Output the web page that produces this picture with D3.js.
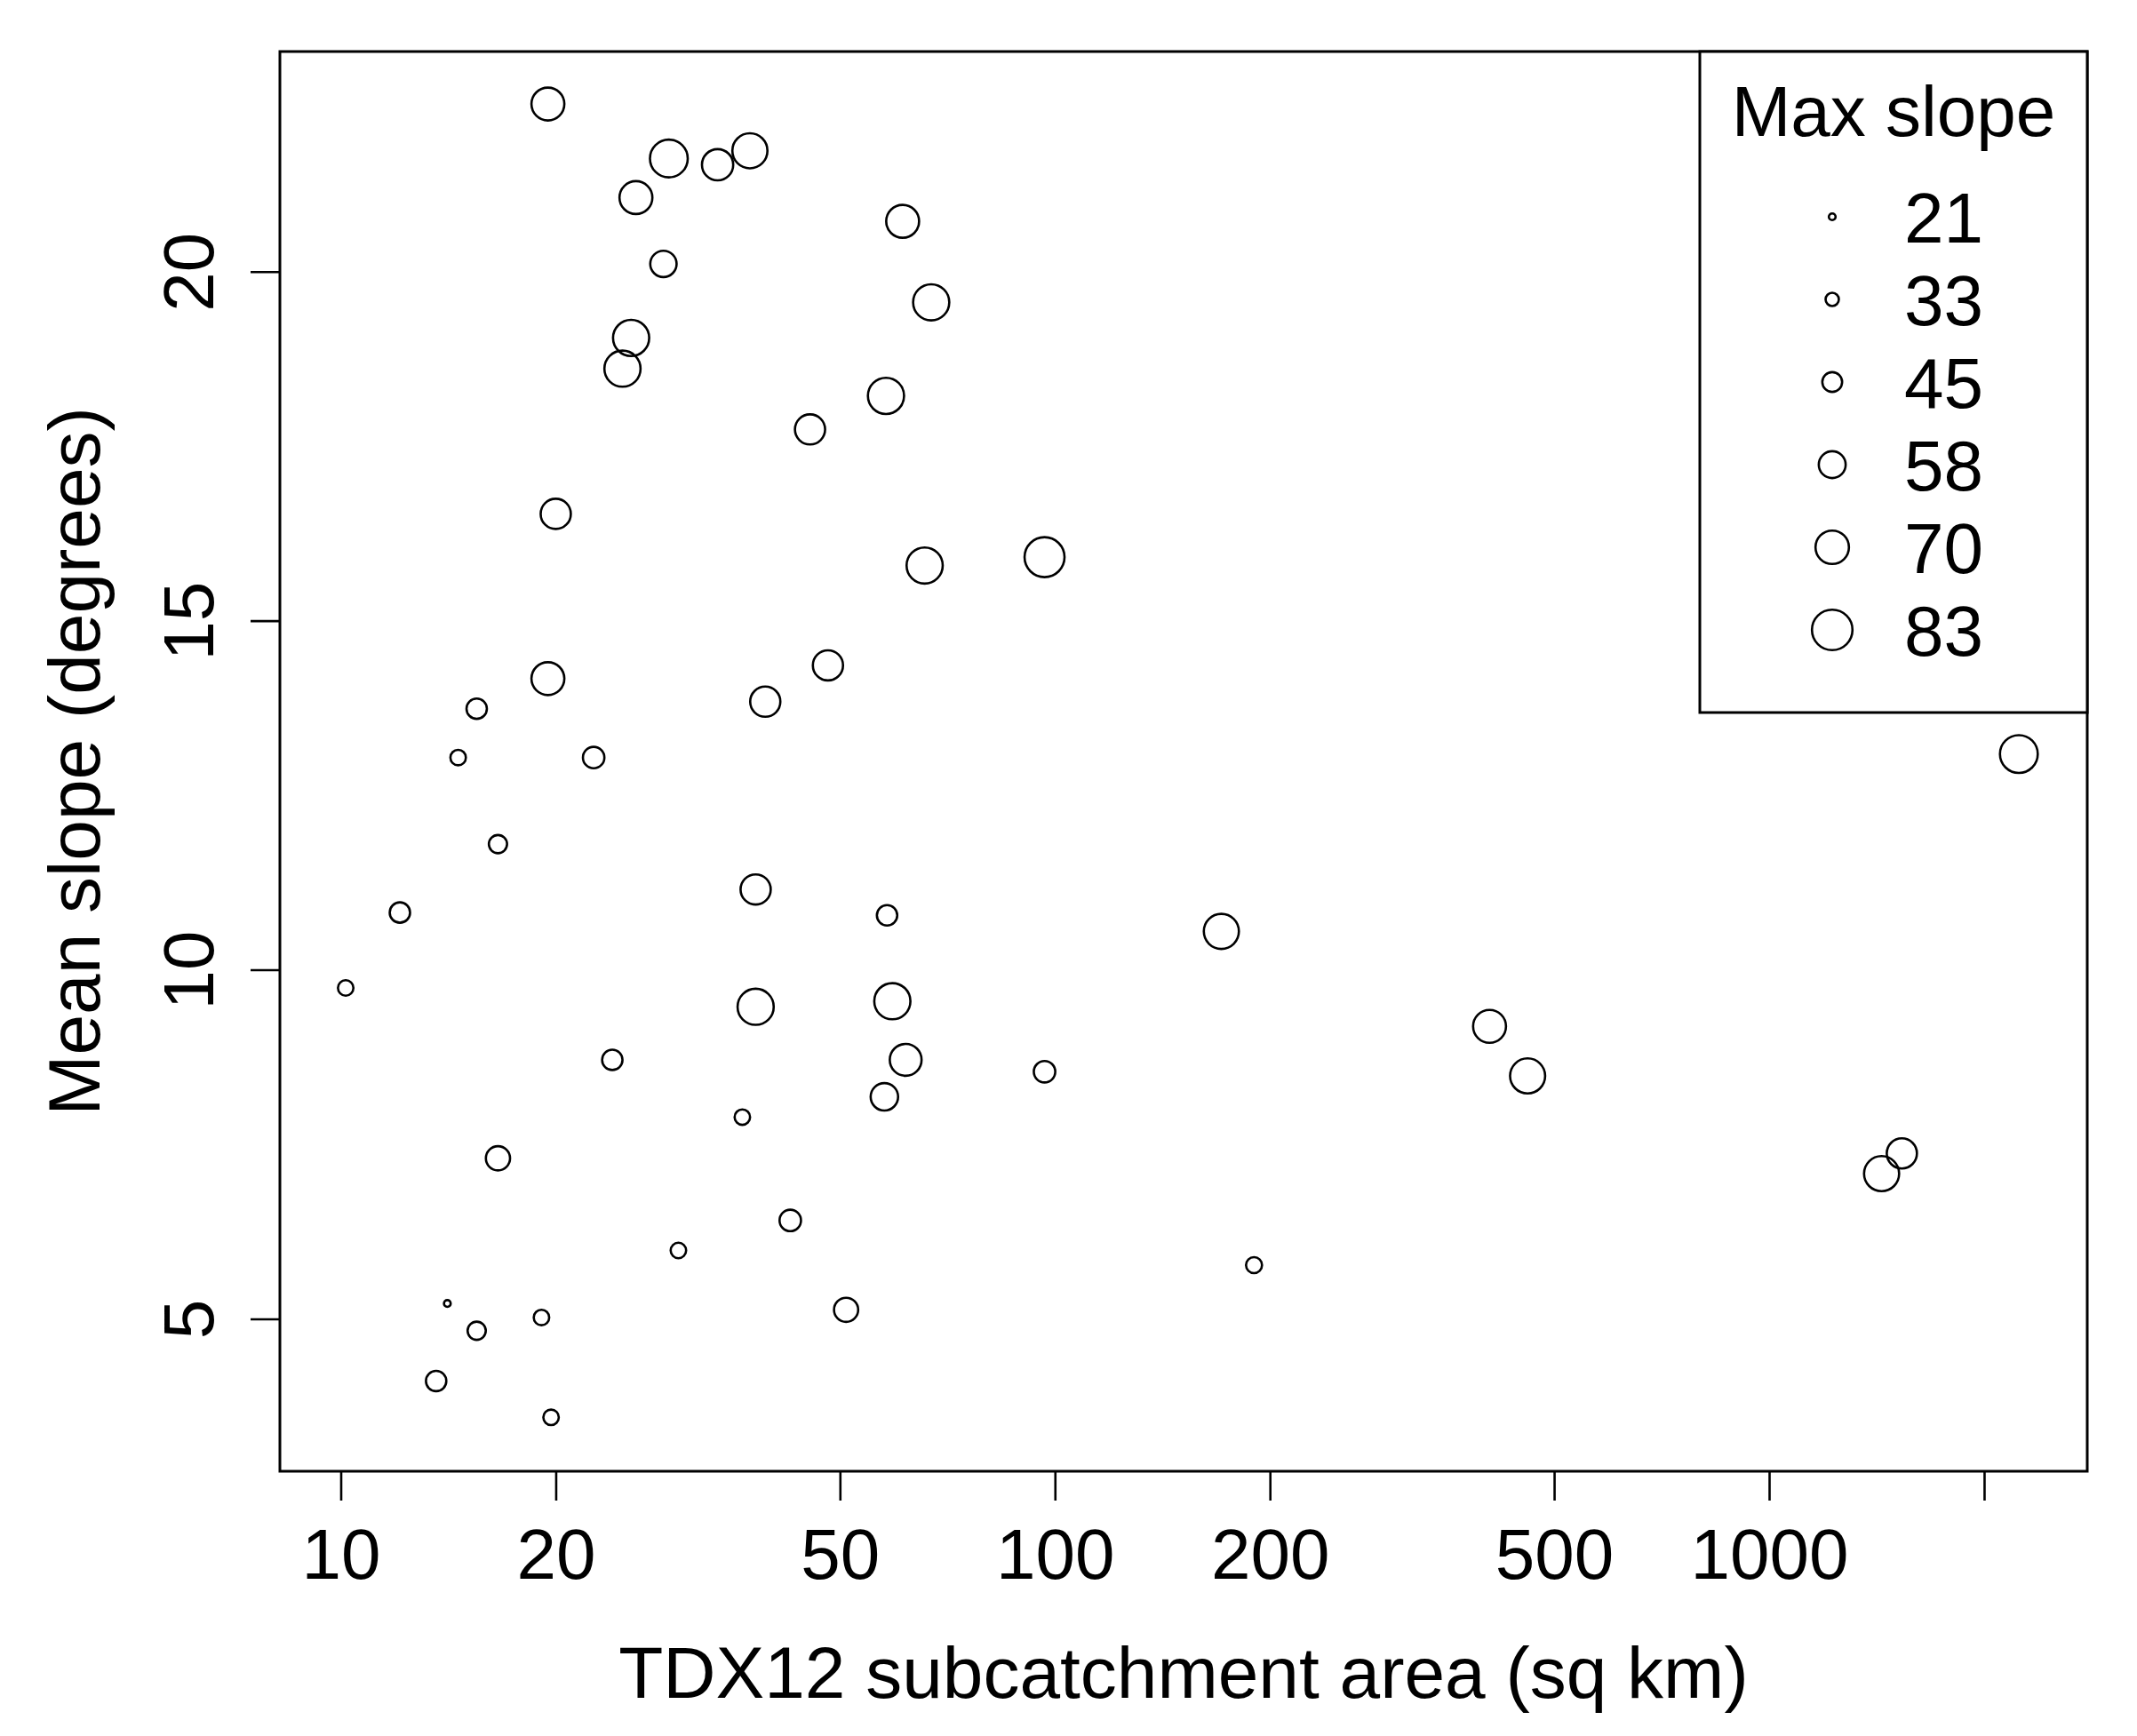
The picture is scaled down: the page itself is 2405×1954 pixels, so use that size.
<!DOCTYPE html>
<html>
<head>
<meta charset="utf-8">
<script src="https://cdn.jsdelivr.net/npm/d3@7"></script>
<style>
  html, body { margin: 0; padding: 0; background: #fff; }
  text { font-family: Arial, "Liberation Sans", sans-serif; fill: #000; }
</style>
</head>
<body>
<script>
// ---- data ----
const area = [19.5, 28.8, 33.7, 37.4, 25.9, 61.2, 28.3, 67.1, 25.5, 24.8, 58.0, 45.4, 20.0, 96.7, 65.7, 48.1, 19.5, 39.3, 15.5, 14.6, 22.6,
              16.6, 12.1, 38.1, 58.2, 10.16, 38.1, 59.2, 24.0, 61.8, 96.7, 57.7, 36.5, 16.6, 42.6, 29.7, 51.0, 14.1, 15.5, 19.1, 13.6, 19.7,
              2237, 171, 406, 459, 1534, 1437, 190];
const meanSlope = [22.40, 21.62, 21.53, 21.73, 21.06, 20.72, 20.11, 19.56, 19.05, 18.61, 18.22, 17.74, 16.53, 15.91, 15.79, 14.36, 14.17, 13.84, 13.74, 13.04, 13.04,
                   11.80, 10.82, 11.15, 10.78, 9.74, 9.47, 9.55, 8.71, 8.71, 8.54, 8.18, 7.89, 7.30, 6.41, 5.98, 5.13, 5.22, 4.83, 5.02, 4.11, 3.59,
                   13.09, 10.55, 9.19, 8.48, 7.37, 7.08, 5.77];
const maxSlope = [69, 78, 66, 73, 69, 69, 57, 75, 75, 75, 75, 64, 64, 82, 75, 64, 69, 64, 46, 37, 48,
                  42, 46, 64, 46, 37, 75, 75, 46, 67, 48, 59, 37, 53, 48, 37, 53, 21, 42, 37, 46, 37,
                  78, 73, 69, 73, 64, 73, 38];
const xTicks = [10, 20, 50, 100, 200, 500, 1000, 2000];
const xTickLabels = ["10", "20", "50", "100", "200", "500", "1000", ""];
const yTicks = [5, 10, 15, 20];
const yTickLabels = ["5", "10", "15", "20"];
const legendValues = [21, 33, 45, 58, 70, 83];
const legendTitle = "Max slope";
const xTitle = "TDX12 subcatchment area (sq km)";
const yTitle = "Mean slope (degrees)";

// ---- layout ----
const W = 2405, H = 1954;
const box = { left: 315, right: 2349, top: 58, bottom: 1656 };
const FS = 80;
const FT = 82;

const svg = d3.select("body").append("svg")
  .attr("width", W).attr("height", H)
  .style("display", "block");
svg.append("rect").attr("width", W).attr("height", H).attr("fill", "#fff");

const x = d3.scaleLog().domain([10, 1000]).range([383.5, 1991]);
const y = d3.scaleLinear().domain([5, 20]).range([1484.5, 305.7]);
const r = d3.scaleLinear().domain([21, 83]).range([3.8, 22.8]);

// points
const pts = area.map((a, i) => ({ a, m: meanSlope[i], s: maxSlope[i] }));
svg.append("g").selectAll("circle").data(pts).join("circle")
  .attr("cx", d => x(d.a)).attr("cy", d => y(d.m)).attr("r", d => r(d.s))
  .attr("fill", "none").attr("stroke", "#000").attr("stroke-width", 2.6);

// x axis
const xAxis = d3.axisBottom(x).tickValues(xTicks)
  .tickFormat((d, i) => xTickLabels[i]).tickSize(33).tickPadding(0);
const gx = svg.append("g").attr("transform", `translate(0,${box.bottom})`).call(xAxis);
gx.select(".domain").remove();
gx.selectAll(".tick line").attr("stroke", "#000").attr("stroke-width", 2.6);
gx.selectAll(".tick text")
  .attr("font-size", FS).attr("font-family", "Arial, 'Liberation Sans', sans-serif")
  .attr("dy", null).attr("y", 1777 - box.bottom).style("dominant-baseline", "alphabetic");

// y axis
const yAxis = d3.axisLeft(y).tickValues(yTicks)
  .tickFormat((d, i) => yTickLabels[i]).tickSize(33).tickPadding(0);
const gy = svg.append("g").attr("transform", `translate(${box.left},0)`).call(yAxis);
gy.select(".domain").remove();
gy.selectAll(".tick line").attr("stroke", "#000").attr("stroke-width", 2.6);
gy.selectAll(".tick text")
  .attr("font-size", FS).attr("font-family", "Arial, 'Liberation Sans', sans-serif")
  .attr("x", null).attr("dy", null)
  .attr("text-anchor", "middle")
  .attr("transform", `translate(${240 - box.left},0) rotate(-90)`);

// plot box
svg.append("rect")
  .attr("x", box.left).attr("y", box.top)
  .attr("width", box.right - box.left).attr("height", box.bottom - box.top)
  .attr("fill", "none").attr("stroke", "#000").attr("stroke-width", 3);

// axis titles
svg.append("text").attr("x", (box.left + box.right) / 2).attr("y", 1911)
  .attr("text-anchor", "middle").attr("font-size", FT).text(xTitle);
svg.append("text")
  .attr("transform", `translate(112,${(box.top + box.bottom) / 2}) rotate(-90)`)
  .attr("text-anchor", "middle").attr("font-size", FT).text(yTitle);

// legend
const lg = { left: 1913, right: box.right, top: box.top, bottom: 802 };
svg.append("rect")
  .attr("x", lg.left).attr("y", lg.top)
  .attr("width", lg.right - lg.left).attr("height", lg.bottom - lg.top)
  .attr("fill", "#fff").attr("stroke", "#000").attr("stroke-width", 3);
svg.append("text").attr("x", (lg.left + lg.right) / 2).attr("y", 153)
  .attr("text-anchor", "middle").attr("font-size", FS).text(legendTitle);
const ly = d3.scalePoint().domain(legendValues).range([244, 709]);
const li = svg.append("g").selectAll("g").data(legendValues).join("g")
  .attr("transform", d => `translate(0,${ly(d)})`);
li.append("circle").attr("cx", 2062).attr("cy", 0).attr("r", d => r(d))
  .attr("fill", "none").attr("stroke", "#000").attr("stroke-width", 2.6);
li.append("text").attr("x", 2143).attr("y", 29).attr("font-size", FS).text(d => d);
</script>
</body>
</html>
